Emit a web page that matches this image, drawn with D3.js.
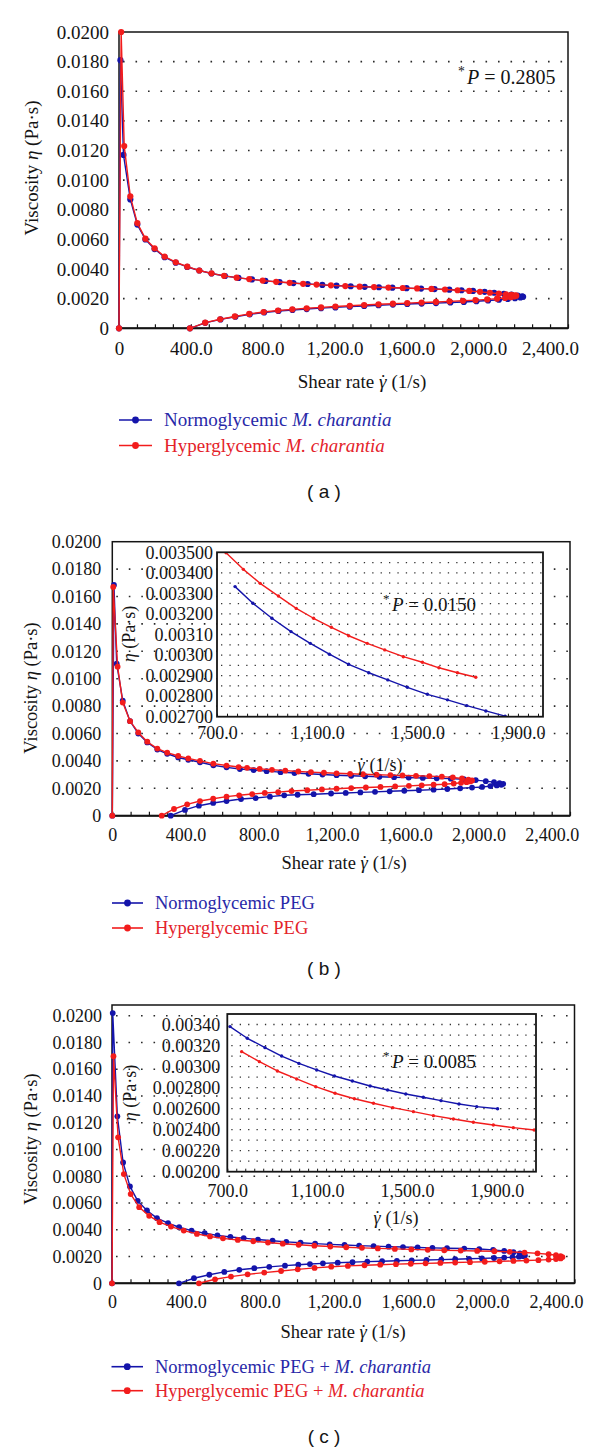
<!DOCTYPE html>
<html><head><meta charset="utf-8">
<script src="https://cdn.jsdelivr.net/npm/d3@7"></script>
<style>
body{margin:0;background:#fff;}
svg{display:block;}
</style></head><body>
<svg id="chart" width="600" height="1453"></svg>
<script>
// ---------------- DATA ----------------
const shearTicks = [0, 400, 800, 1200, 1600, 2000, 2400];
const viscTicks = [0, 0.002, 0.004, 0.006, 0.008, 0.010, 0.012, 0.014, 0.016, 0.018, 0.020];
const insetShearTicks = [700, 1100, 1500, 1900];
const insetBViscTicks = [0.0027, 0.0028, 0.0029, 0.0030, 0.0031, 0.0032, 0.0033, 0.0034, 0.0035];
const insetBViscLabels = ["0.002700", "0.002800", "0.002900", "0.00300", "0.00310", "0.003200", "0.003300", "0.003400", "0.003500"];
const insetCViscTicks = [0.0020, 0.0022, 0.0024, 0.0026, 0.0028, 0.0030, 0.0032, 0.0034];
const insetCViscLabels = ["0.00200", "0.00220", "0.002400", "0.002600", "0.002800", "0.00300", "0.00320", "0.00340"];

// (a) Normoglycemic / Hyperglycemic M. charantia  (up ramp then down ramp)
const aNormShear = [0, 8, 25, 63, 102, 147, 198, 254, 316, 380, 447, 515, 590, 665, 740, 815, 894, 971, 1050, 1132, 1211, 1290, 1368, 1447, 1522, 1601, 1682, 1757, 1839, 1907, 1971, 2036, 2089, 2143, 2185, 2220, 2245,
  2250, 2235, 2205, 2165, 2115, 2055, 1990, 1920, 1845, 1765, 1685, 1605, 1525, 1445, 1365, 1285, 1205, 1125, 1045, 966, 888, 808, 728, 648, 565, 480, 395];
const aNormVisc = [0, 0.0181, 0.0117, 0.0087, 0.0070, 0.0060, 0.00535, 0.0048, 0.00443, 0.00414, 0.0039, 0.0037, 0.00353, 0.0034, 0.0033, 0.0032, 0.00312, 0.00305, 0.00299, 0.00293, 0.00288, 0.00284, 0.0028, 0.00277, 0.00274, 0.00271, 0.00268, 0.00265, 0.00261, 0.00257, 0.00252, 0.00246, 0.0024, 0.00233, 0.00227, 0.00221, 0.00216,
  0.00213, 0.00208, 0.00203, 0.00198, 0.00193, 0.00188, 0.00183, 0.00178, 0.00174, 0.0017, 0.00167, 0.00164, 0.0016, 0.00156, 0.00151, 0.00146, 0.00141, 0.00136, 0.0013, 0.00124, 0.00117, 0.00107, 0.00094, 0.00078, 0.0006, 0.00037, 0];
const aHyperShear = [0, 12, 29, 63, 102, 147, 198, 254, 316, 380, 447, 515, 585, 655, 725, 800, 875, 950, 1025, 1100, 1180, 1260, 1340, 1420, 1500, 1580, 1660, 1740, 1815, 1885, 1950, 2010, 2065, 2115, 2155, 2185, 2205, 2212,
  2200, 2180, 2150, 2105, 2050, 1985, 1915, 1840, 1765, 1685, 1605, 1525, 1445, 1365, 1285, 1205, 1125, 1045, 965, 885, 805, 725, 645, 563, 480, 395];
const aHyperVisc = [0, 0.0200, 0.0123, 0.0089, 0.0071, 0.00605, 0.0054, 0.00484, 0.00446, 0.00416, 0.0039, 0.00371, 0.00354, 0.00342, 0.00332, 0.00322, 0.00314, 0.00307, 0.003, 0.00295, 0.0029, 0.00285, 0.00281, 0.00278, 0.00275, 0.00272, 0.00269, 0.00266, 0.00262, 0.00257, 0.00252, 0.00246, 0.0024, 0.00234, 0.00229, 0.00225, 0.00222, 0.0022,
  0.00215, 0.0021, 0.00205, 0.002, 0.00195, 0.0019, 0.00186, 0.00182, 0.00178, 0.00174, 0.0017, 0.00166, 0.00162, 0.00157, 0.00152, 0.00147, 0.00141, 0.00135, 0.00128, 0.0012, 0.0011, 0.00097, 0.0008, 0.00061, 0.00038, 0];

// (b) Normoglycemic / Hyperglycemic PEG
const bNormShear = [0, 9, 24, 57, 97, 142, 191, 246, 300, 360, 415, 479, 552, 624, 697, 772, 843, 919, 995, 1072, 1148, 1225, 1305, 1381, 1459, 1539, 1619, 1696, 1772, 1849, 1920, 1985, 2040, 2085, 2115, 2135,
  2125, 2100, 2065, 2020, 1965, 1900, 1830, 1755, 1675, 1595, 1515, 1435, 1355, 1275, 1195, 1100, 1012, 939, 861, 783, 703, 624, 551, 473, 397, 319];
const bNormVisc = [0, 0.01684, 0.0111, 0.0084, 0.0069, 0.006, 0.00535, 0.00483, 0.00452, 0.00425, 0.00408, 0.0039, 0.00368, 0.00353, 0.00341, 0.003333, 0.003252, 0.003179, 0.003114, 0.003057, 0.003004, 0.002955, 0.002914, 0.002879, 0.002843, 0.002809, 0.002782, 0.002754, 0.002728, 0.002703, 0.00266, 0.0026, 0.00252, 0.00245, 0.00238, 0.00233,
  0.00226, 0.00221, 0.00216, 0.0021, 0.00205, 0.002, 0.00195, 0.0019, 0.00186, 0.00182, 0.00178, 0.00174, 0.0017, 0.00166, 0.00162, 0.00157, 0.00153, 0.00149, 0.00139, 0.00129, 0.00122, 0.00107, 0.00093, 0.00073, 0.00042, 0];
const bHyperShear = [0, 5, 29, 57, 97, 142, 191, 246, 300, 360, 415, 479, 552, 624, 690, 736, 805, 872, 945, 1016, 1085, 1156, 1225, 1299, 1369, 1443, 1519, 1585, 1659, 1732, 1800, 1860, 1910, 1945, 1965,
  1955, 1935, 1905, 1865, 1815, 1755, 1690, 1620, 1545, 1465, 1385, 1305, 1225, 1145, 1065, 979, 906, 833, 764, 693, 624, 551, 479, 409, 337, 270];
const bHyperVisc = [0, 0.0167, 0.01088, 0.00826, 0.0069, 0.00608, 0.0054, 0.0049, 0.0046, 0.00436, 0.00418, 0.004, 0.0038, 0.00366, 0.00355, 0.003498, 0.003417, 0.003349, 0.003287, 0.003227, 0.003179, 0.003135, 0.003094, 0.003057, 0.003025, 0.002992, 0.002965, 0.002938, 0.002914, 0.002892, 0.00285, 0.0028, 0.00272, 0.00264, 0.00257,
  0.0025, 0.00245, 0.0024, 0.00235, 0.0023, 0.00226, 0.00222, 0.00218, 0.00214, 0.0021, 0.00206, 0.00202, 0.00197, 0.00192, 0.00186, 0.0018, 0.00172, 0.00166, 0.00158, 0.00149, 0.00139, 0.00124, 0.00107, 0.00083, 0.00049, 0];
const bInsetNormShear = [772, 843, 919, 995, 1072, 1148, 1225, 1305, 1381, 1459, 1539, 1619, 1696, 1772, 1849];
const bInsetNormVisc = [0.003333, 0.003252, 0.003179, 0.003114, 0.003057, 0.003004, 0.002955, 0.002914, 0.002879, 0.002843, 0.002809, 0.002782, 0.002754, 0.002728, 0.002703];
const bInsetHyperShear = [736, 805, 872, 945, 1016, 1085, 1156, 1225, 1299, 1369, 1443, 1519, 1585, 1659, 1732];
const bInsetHyperVisc = [0.003498, 0.003417, 0.003349, 0.003287, 0.003227, 0.003179, 0.003135, 0.003094, 0.003057, 0.003025, 0.002992, 0.002965, 0.002938, 0.002914, 0.002892];

// (c) Normoglycemic / Hyperglycemic PEG + M. charantia
const cNormShear = [0, 4, 29, 60, 97, 139, 189, 243, 303, 363, 430, 501, 570, 640, 712, 789, 868, 942, 1019, 1098, 1177, 1257, 1336, 1414, 1495, 1573, 1652, 1732, 1811, 1904, 1985, 2060, 2120, 2170, 2205, 2225, 2232,
  2222, 2200, 2165, 2120, 2065, 2000, 1930, 1855, 1780, 1700, 1620, 1540, 1460, 1380, 1300, 1220, 1140, 1070, 1007, 935, 850, 769, 688, 607, 526, 443, 362];
const cNormVisc = [0, 0.0202, 0.01248, 0.00903, 0.00724, 0.00616, 0.00544, 0.00487, 0.00449, 0.00419, 0.00394, 0.00374, 0.00358, 0.00346, 0.00338, 0.003269, 0.00318, 0.0031, 0.00303, 0.002968, 0.00291, 0.002863, 0.002815, 0.002777, 0.002739, 0.002708, 0.002676, 0.002644, 0.002619, 0.002599, 0.00256, 0.0025, 0.00242, 0.00233, 0.00224, 0.00214, 0.00207,
  0.00203, 0.00199, 0.00195, 0.00192, 0.00189, 0.00186, 0.00183, 0.0018, 0.00177, 0.00174, 0.00171, 0.00168, 0.00165, 0.00162, 0.00158, 0.00154, 0.00149, 0.00144, 0.00139, 0.00132, 0.00123, 0.00113, 0.00101, 0.00085, 0.00064, 0.00038, 0];
const cHyperShear = [0, 8, 33, 64, 101, 147, 201, 257, 319, 388, 459, 530, 600, 680, 764, 843, 923, 1009, 1094, 1180, 1266, 1351, 1437, 1529, 1618, 1707, 1796, 1885, 1974, 2067, 2150, 2230, 2300, 2360, 2400, 2425, 2435,
  2425, 2400, 2360, 2305, 2240, 2170, 2095, 2015, 1935, 1855, 1775, 1695, 1615, 1535, 1450, 1365, 1275, 1185, 1095, 1004, 914, 823, 733, 643, 557, 470];
const cHyperVisc = [0, 0.01697, 0.01091, 0.00816, 0.00667, 0.00569, 0.00504, 0.00457, 0.00424, 0.00394, 0.00369, 0.0035, 0.00336, 0.00324, 0.003142, 0.003047, 0.002958, 0.002882, 0.002809, 0.002746, 0.002694, 0.002651, 0.002609, 0.002571, 0.002533, 0.002501, 0.00247, 0.002444, 0.002419, 0.002397, 0.00235, 0.0023, 0.00224, 0.00217, 0.0021, 0.00203, 0.00196,
  0.00186, 0.00181, 0.00177, 0.00173, 0.0017, 0.00167, 0.00164, 0.00161, 0.00158, 0.00155, 0.00152, 0.00149, 0.00146, 0.00143, 0.00139, 0.00135, 0.0013, 0.00124, 0.00115, 0.00104, 0.00092, 0.0008, 0.00067, 0.0005, 0.0003, 0];
const cInsetNormShear = [712, 789, 868, 942, 1019, 1098, 1177, 1257, 1336, 1414, 1495, 1573, 1652, 1732, 1811, 1904];
const cInsetNormVisc = [0.00338, 0.003269, 0.00318, 0.0031, 0.00303, 0.002968, 0.00291, 0.002863, 0.002815, 0.002777, 0.002739, 0.002708, 0.002676, 0.002644, 0.002619, 0.002599];
const cInsetHyperShear = [764, 843, 923, 1009, 1094, 1180, 1266, 1351, 1437, 1529, 1618, 1707, 1796, 1885, 1974, 2067];
const cInsetHyperVisc = [0.003142, 0.003047, 0.002958, 0.002882, 0.002809, 0.002746, 0.002694, 0.002651, 0.002609, 0.002571, 0.002533, 0.002501, 0.00247, 0.002444, 0.002419, 0.002397];

const pValues = ["0.2805", "0.0150", "0.0085"];
const legendNames = [
  [["Normoglycemic ", ""], ["M. charantia", "i"]],
  [["Hyperglycemic ", ""], ["M. charantia", "i"]],
  [["Normoglycemic PEG", ""]],
  [["Hyperglycemic PEG", ""]],
  [["Normoglycemic PEG + ", ""], ["M. charantia", "i"]],
  [["Hyperglycemic PEG + ", ""], ["M. charantia", "i"]]
];
const panelLetters = ["( a )", "( b )", "( c )"];

// ---------------- DRAWING ----------------
const SERIF = '"Liberation Serif","Times New Roman",Times,serif';
const SANS = '"Liberation Sans",Arial,sans-serif';
const BLUE = "#1414aa", RED = "#f21c1c";
const BLUE_TXT = "#2828a8", RED_TXT = "#e4222a";
const INK = "#141414";
const svg = d3.select("#chart");
const fmtVisc = d => d === 0 ? "0" : d.toFixed(4);
const fmtShear = d => d === 0 ? "0" : d3.format(",.1f")(d);

function series(g, x, y, sh, vi, color, r, lw) {
  const pts = d3.zip(sh, vi);
  g.append("path").datum(pts)
    .attr("d", d3.line().x(d => x(d[0])).y(d => y(d[1])))
    .attr("fill", "none").attr("stroke", color).attr("stroke-width", lw).attr("stroke-linejoin", "round");
  g.append("g").selectAll("circle").data(pts).join("circle")
    .attr("cx", d => x(d[0])).attr("cy", d => y(d[1])).attr("r", r).attr("fill", color);
}

function richText(sel, parts) {
  parts.forEach(([t, st]) => {
    const ts = sel.append("tspan").text(t);
    if (st === "i") ts.attr("font-style", "italic");
  });
}

// gamma with overdot, drawn as italic gamma plus a spacing dot placed above it
function gammaDot(sel, tail) {
  sel.append("tspan").attr("font-style", "italic").text("γ");
  sel.append("tspan").attr("dx", "-0.34em").attr("dy", "0.02em").text("˙");
  sel.append("tspan").attr("dx", "0.02em").attr("dy", "-0.02em").text(tail);
}

function drawPanel(c) {
  const g = svg.append("g").attr("font-family", SERIF);
  const x = d3.scaleLinear().domain([0, 2500]).range([c.left, c.right]);
  const y = d3.scaleLinear().domain([0, c.yMax]).range([c.bottom, c.top]);

  // dotted horizontal gridlines
  g.append("g").selectAll("line").data(viscTicks.filter(v => v > 0 && y(v) > c.top + 3)).join("line")
    .attr("x1", c.left + 4).attr("x2", c.right).attr("y1", d => y(d)).attr("y2", d => y(d))
    .attr("stroke", "#2a2a2a").attr("stroke-width", 1.6).attr("stroke-dasharray", "1.6 10.9");

  // minor ticks on x axis (inward)
  g.append("g").attr("transform", `translate(0,${c.bottom})`)
    .call(d3.axisBottom(x).tickValues(d3.range(0, 2501, 100)).tickSize(-4).tickFormat(""))
    .call(a => a.select(".domain").remove())
    .call(a => a.selectAll("line").attr("stroke", INK).attr("stroke-width", 1.2));

  // x labels
  g.append("g").attr("transform", `translate(0,${c.bottom})`)
    .call(d3.axisBottom(x).tickValues(shearTicks).tickSize(0).tickPadding(c.xPad).tickFormat(fmtShear))
    .attr("font-family", SERIF).attr("font-size", c.fs)
    .call(a => a.select(".domain").remove())
    .selectAll("text").attr("font-family", SERIF).attr("font-size", c.fs).attr("fill", INK);

  // y labels
  g.append("g").attr("transform", `translate(${c.left},0)`)
    .call(d3.axisLeft(y).tickValues(viscTicks).tickSize(0).tickPadding(c.yPad).tickFormat(fmtVisc))
    .attr("font-family", SERIF).attr("font-size", c.fs)
    .call(a => a.select(".domain").remove())
    .selectAll("text").attr("font-family", SERIF).attr("font-size", c.fs).attr("fill", INK);

  // plot frame
  g.append("rect").attr("x", c.left).attr("y", c.top).attr("width", c.right - c.left).attr("height", c.bottom - c.top)
    .attr("fill", "none").attr("stroke", INK).attr("stroke-width", 1.5);
  g.append("line").attr("x1", c.left).attr("x2", c.right).attr("y1", c.bottom).attr("y2", c.bottom)
    .attr("stroke", INK).attr("stroke-width", 2);

  // series
  series(g, x, y, c.norm[0], c.norm[1], BLUE, c.r, 1.4);
  series(g, x, y, c.hyper[0], c.hyper[1], RED, c.r, 1.4);

  // axis titles
  const yt = g.append("text").attr("transform", `translate(${c.yTitle[0]},${c.yTitle[1]}) rotate(-90)`)
    .attr("text-anchor", "middle").attr("dominant-baseline", "central")
    .attr("font-family", SERIF).attr("font-size", c.fsT).attr("fill", INK);
  richText(yt, [["Viscosity ", ""], ["η", "i"], [" (Pa·s)", ""]]);
  const xt = g.append("text").attr("x", c.xTitle[0]).attr("y", c.xTitle[1]).attr("text-anchor", "middle")
    .attr("font-family", SERIF).attr("font-size", c.fsT).attr("fill", INK);
  xt.append("tspan").text("Shear rate ");
  gammaDot(xt, " (1/s)");

  // inset
  if (c.inset) drawInset(g, c.inset);

  // P annotation
  g.append("text").attr("x", c.pPos[0] - 9).attr("y", c.pPos[1] - 8).attr("font-family", SERIF)
    .attr("font-size", c.fs * 0.72).attr("fill", INK).text("*");
  const pt = g.append("text").attr("x", c.pPos[0]).attr("y", c.pPos[1]).attr("font-family", SERIF)
    .attr("font-size", c.fs + 1).attr("fill", INK);
  richText(pt, [["P", "i"], [" = " + c.p, ""]]);

  // legend
  c.legend.forEach((L, i) => {
    const col = i === 0 ? BLUE : RED;
    const tcol = i === 0 ? BLUE_TXT : RED_TXT;
    g.append("line").attr("x1", c.legX[0]).attr("x2", c.legX[1]).attr("y1", c.legY[i]).attr("y2", c.legY[i])
      .attr("stroke", col).attr("stroke-width", 1.6);
    g.append("circle").attr("cx", (c.legX[0] + c.legX[1]) / 2).attr("cy", c.legY[i]).attr("r", 3.4).attr("fill", col);
    const lt = g.append("text").attr("x", c.legText).attr("y", c.legY[i]).attr("dy", "0.33em")
      .attr("font-family", SERIF).attr("font-size", c.fsL).attr("fill", tcol);
    richText(lt, L);
  });

  // panel letter
  g.append("text").attr("x", c.letter[0]).attr("y", c.letter[1]).attr("text-anchor", "middle")
    .attr("font-family", SANS).attr("font-size", 19).attr("fill", INK).text(c.letterText);
}

function drawInset(g, s) {
  const gi = g.append("g");
  const x = d3.scaleLinear().domain(s.xDom).range([s.left, s.right]);
  const y = d3.scaleLinear().domain(s.yDom).range([s.bottom, s.top]);
  gi.append("rect").attr("x", s.left).attr("y", s.top).attr("width", s.right - s.left).attr("height", s.bottom - s.top)
    .attr("fill", "#fff");
  const rows = d3.range(Math.round((s.yDom[1] - s.yDom[0]) / s.minor) + 1).map(i => s.yDom[0] + i * s.minor)
    .filter(v => y(v) > s.top + 3 && y(v) < s.bottom - 3);
  gi.append("g").selectAll("line").data(rows).join("line")
    .attr("x1", s.left + 4).attr("x2", s.right).attr("y1", d => y(d)).attr("y2", d => y(d))
    .attr("stroke", "#333").attr("stroke-width", 1.3).attr("stroke-dasharray", "1.3 7.1");
  gi.append("g").attr("transform", `translate(0,${s.bottom})`)
    .call(d3.axisBottom(x).tickValues(d3.range(s.xDom[0], s.xDom[1] + 1, 40)).tickSize(-3).tickFormat(""))
    .call(a => a.select(".domain").remove())
    .call(a => a.selectAll("line").attr("stroke", INK).attr("stroke-width", 1));
  gi.append("g").attr("transform", `translate(0,${s.bottom})`)
    .call(d3.axisBottom(x).tickValues(insetShearTicks).tickSize(0).tickPadding(s.xPad).tickFormat(fmtShear))
    .attr("font-family", SERIF).attr("font-size", 18)
    .call(a => a.select(".domain").remove())
    .selectAll("text").attr("font-family", SERIF).attr("font-size", 18).attr("fill", INK);
  gi.append("g").attr("transform", `translate(${s.left},0)`)
    .call(d3.axisLeft(y).tickValues(s.yTicks).tickSize(0).tickPadding(s.yPad).tickFormat((d, i) => s.yLabels[i]))
    .attr("font-family", SERIF).attr("font-size", 18)
    .call(a => a.select(".domain").remove())
    .selectAll("text").attr("font-family", SERIF).attr("font-size", 18).attr("fill", INK);
  const clipId = "clip" + Math.round(s.top);
  gi.append("clipPath").attr("id", clipId).append("rect")
    .attr("x", s.left).attr("y", s.top).attr("width", s.right - s.left).attr("height", s.bottom - s.top);
  const gs = gi.append("g").attr("clip-path", `url(#${clipId})`);
  series(gs, x, y, s.norm[0], s.norm[1], BLUE, 1.7, 1.4);
  series(gs, x, y, s.hyper[0], s.hyper[1], RED, 1.7, 1.4);
  gi.append("rect").attr("x", s.left).attr("y", s.top).attr("width", s.right - s.left).attr("height", s.bottom - s.top)
    .attr("fill", "none").attr("stroke", INK).attr("stroke-width", 1.8);
  const yt = gi.append("text").attr("transform", `translate(${s.yTitle[0]},${s.yTitle[1]}) rotate(-90)`)
    .attr("text-anchor", "middle").attr("dominant-baseline", "central")
    .attr("font-family", SERIF).attr("font-size", 18).attr("fill", INK);
  richText(yt, [["η", "i"], [" (Pa·s)", ""]]);
  const xt = gi.append("text").attr("x", s.xTitle[0]).attr("y", s.xTitle[1]).attr("text-anchor", "middle")
    .attr("font-family", SERIF).attr("font-size", 18).attr("fill", INK);
  gammaDot(xt, " (1/s)");
}

drawPanel({
  left: 119, right: 568, top: 32, bottom: 328.3, yMax: 0.02, fs: 19, fsT: 19, xPad: 13.5, yPad: 10, r: 3.1,
  norm: [aNormShear, aNormVisc], hyper: [aHyperShear, aHyperVisc],
  yTitle: [31, 168], xTitle: [362, 388],
  pPos: [467, 84], p: pValues[0],
  legend: [legendNames[0], legendNames[1]], legX: [119, 152], legY: [420, 445.5], legText: 164, fsL: 19,
  letter: [324, 498], letterText: panelLetters[0]
});

drawPanel({
  left: 112.3, right: 570, top: 541.7, bottom: 815.7, yMax: 0.02, fs: 18, fsT: 18.5, xPad: 12.5, yPad: 11, r: 2.9,
  norm: [bNormShear, bNormVisc], hyper: [bHyperShear, bHyperVisc],
  yTitle: [31, 688], xTitle: [344, 869],
  pPos: [392, 611], p: pValues[1],
  legend: [legendNames[2], legendNames[3]], legX: [112, 143], legY: [903, 928], legText: 155, fsL: 18.5,
  letter: [324, 974.5], letterText: panelLetters[1],
  inset: {
    left: 217, right: 543, top: 552.3, bottom: 716.7, xDom: [700, 2000], yDom: [0.0027, 0.0035], minor: 0.00005,
    yTicks: insetBViscTicks, yLabels: insetBViscLabels, xPad: 10, yPad: 4,
    norm: [bInsetNormShear, bInsetNormVisc], hyper: [bInsetHyperShear, bInsetHyperVisc],
    yTitle: [129, 634], xTitle: [380, 771]
  }
});

drawPanel({
  left: 112, right: 574.5, top: 1005, bottom: 1283.3, yMax: 0.0208, fs: 18, fsT: 18.5, xPad: 12, yPad: 10, r: 2.9,
  norm: [cNormShear, cNormVisc], hyper: [cHyperShear, cHyperVisc],
  yTitle: [31, 1139], xTitle: [343, 1338],
  pPos: [392, 1068], p: pValues[2],
  legend: [legendNames[4], legendNames[5]], legX: [111.5, 143], legY: [1366.7, 1390.7], legText: 155, fsL: 18.5,
  letter: [324, 1443], letterText: panelLetters[2],
  inset: {
    left: 227.3, right: 536, top: 1014, bottom: 1171.7, xDom: [700, 2075], yDom: [0.0020, 0.0035], minor: 0.0001,
    yTicks: insetCViscTicks, yLabels: insetCViscLabels, xPad: 13, yPad: 7,
    norm: [cInsetNormShear, cInsetNormVisc], hyper: [cInsetHyperShear, cInsetHyperVisc],
    yTitle: [130, 1093], xTitle: [396, 1224]
  }
});
</script>
</body></html>
